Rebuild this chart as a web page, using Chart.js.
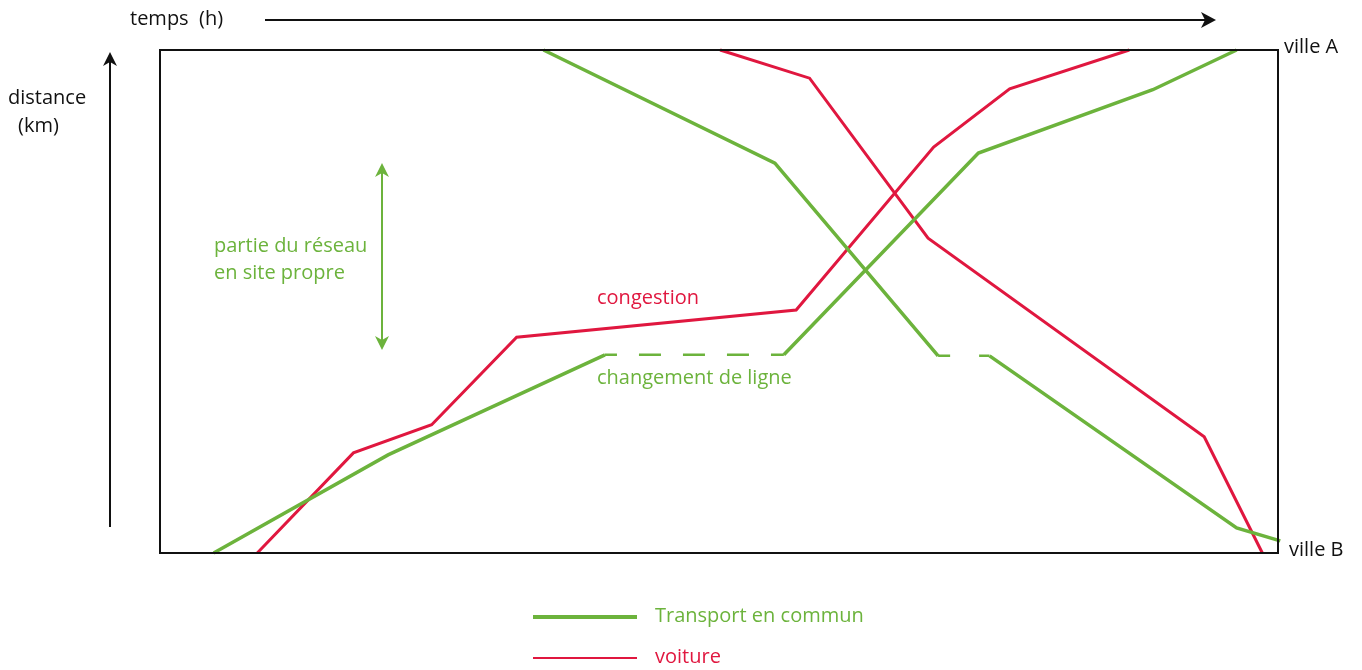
<!DOCTYPE html>
<html>
<head>
<meta charset="utf-8">
<title>temps / distance</title>
<script src="https://cdn.jsdelivr.net/npm/chart.js@4"></script>
<style>
  html, body { margin: 0; padding: 0; background: #fff; }
  #wrap { width: 1362px; height: 670px; }
</style>
</head>
<body>
<div id="wrap"><canvas id="graph" width="1362" height="670"></canvas></div>
<script>
// x = temps (0-100), y = distance (0 = ville B, 100 = ville A)
var tcAllerX = [4.8, 20.4, 39.8, 55.8, 73.2, 88.8, 96.3];
var tcAllerY = [0, 19.5, 39.4, 39.4, 79.5, 92.1, 100];
var tcRetourX = [34.3, 55.0, 69.6, 74.2, 96.3, 100.2];
var tcRetourY = [100, 77.5, 39.2, 39.2, 5.0, 2.4];
var voitAllerX = [8.7, 17.3, 24.3, 31.9, 56.9, 69.2, 76.0, 86.7];
var voitAllerY = [0, 19.9, 25.5, 42.9, 48.3, 80.7, 92.3, 100];
var voitRetourX = [50.1, 58.1, 68.7, 93.4, 98.6];
var voitRetourY = [100, 94.4, 62.6, 23.1, 0];
// index of the segment drawn dashed (changement de ligne)
var dashedSeg = 2;

var GREEN = '#6cb33c';
var RED = '#e0173f';
var FONT = '"Open Sans", sans-serif';

function pts(xs, ys) {
    return xs.map(function (x, i) { return {x: x, y: ys[i]}; });
}

function dashed(ctx) {
    if (ctx.p0DataIndex !== dashedSeg) return undefined;
    return ctx.datasetIndex === 1 ? [12, 29] : [22, 22];
}
function dashOff(ctx) {
    return (ctx.p0DataIndex === dashedSeg && ctx.datasetIndex === 0) ? 10 : 0;
}
function dashW(ctx) {
    return ctx.p0DataIndex === dashedSeg ? 2.5 : undefined;
}

function arrowHead(c, x, y, dir) {
    c.beginPath();
    if (dir === 'right') {
        c.moveTo(x, y);
        c.lineTo(x - 15, y - 8);
        c.lineTo(x - 11, y);
        c.lineTo(x - 15, y + 8);
    } else if (dir === 'up') {
        c.moveTo(x, y);
        c.lineTo(x - 7, y + 14);
        c.lineTo(x, y + 10);
        c.lineTo(x + 7, y + 14);
    } else {
        c.moveTo(x, y);
        c.lineTo(x - 7, y - 14);
        c.lineTo(x, y - 10);
        c.lineTo(x + 7, y - 14);
    }
    c.closePath();
    c.fill();
}

var decor = {
    id: 'decor',
    afterDraw: function (chart) {
        var c = chart.ctx;
        var a = chart.chartArea;
        c.save();

        // cadre
        c.strokeStyle = '#111';
        c.lineWidth = 2;
        c.strokeRect(a.left, a.top, a.right - a.left, a.bottom - a.top);

        // axe du temps
        c.fillStyle = '#111';
        c.lineWidth = 2;
        c.beginPath();
        c.moveTo(265, 20);
        c.lineTo(1208, 20);
        c.stroke();
        arrowHead(c, 1216, 20, 'right');

        // axe des distances
        c.beginPath();
        c.moveTo(110, 527);
        c.lineTo(110, 60);
        c.stroke();
        arrowHead(c, 110, 52, 'up');

        c.font = '20px ' + FONT;
        c.textBaseline = 'middle';
        c.textAlign = 'left';
        c.fillText('temps  (h)', 130, 19);
        c.fillText('distance', 8, 98);
        c.fillText('(km)', 18, 126);
        c.fillText('ville A', 1284, 47);
        c.fillText('ville B', 1289, 550);

        // site propre
        c.strokeStyle = GREEN;
        c.fillStyle = GREEN;
        c.lineWidth = 2;
        c.beginPath();
        c.moveTo(382, 172);
        c.lineTo(382, 342);
        c.stroke();
        arrowHead(c, 382, 163, 'up');
        arrowHead(c, 382, 350, 'down');
        c.fillText('partie du réseau', 214, 246);
        c.fillText('en site propre', 214, 273);
        c.fillText('changement de ligne', 597, 378);

        c.fillStyle = RED;
        c.fillText('congestion', 597, 298);

        // légende
        var leg = [
            {label: chart.data.datasets[0].label, color: GREEN, w: 4, y: 617},
            {label: chart.data.datasets[2].label, color: RED, w: 2, y: 658}
        ];
        leg.forEach(function (it) {
            c.strokeStyle = it.color;
            c.lineWidth = it.w;
            c.beginPath();
            c.moveTo(533, it.y);
            c.lineTo(637, it.y);
            c.stroke();
            c.fillStyle = it.color;
            c.fillText(it.label, 655, it.y - 1);
        });

        c.restore();
    }
};

var ctx = document.getElementById('graph').getContext('2d');
var chart = new Chart(ctx, {
    type: 'line',
    data: {
        datasets: [{
            label: 'Transport en commun',
            data: pts(tcAllerX, tcAllerY),
            borderColor: GREEN,
            borderWidth: 3.5,
            segment: {borderDash: dashed, borderDashOffset: dashOff, borderWidth: dashW}
        }, {
            label: 'Transport en commun (retour)',
            data: pts(tcRetourX, tcRetourY),
            borderColor: GREEN,
            borderWidth: 3.5,
            segment: {borderDash: dashed, borderDashOffset: dashOff, borderWidth: dashW}
        }, {
            label: 'voiture',
            data: pts(voitAllerX, voitAllerY),
            borderColor: RED,
            borderWidth: 3
        }, {
            label: 'voiture (retour)',
            data: pts(voitRetourX, voitRetourY),
            borderColor: RED,
            borderWidth: 3
        }]
    },
    options: {
        responsive: false,
        animation: false,
        clip: false,
        elements: {
            point: {radius: 0},
            line: {tension: 0, borderCapStyle: 'butt', borderJoinStyle: 'miter'}
        },
        layout: {padding: {left: 160, right: 84, top: 50, bottom: 117}},
        scales: {
            x: {type: 'linear', min: 0, max: 100, display: false},
            y: {type: 'linear', min: 0, max: 100, display: false}
        },
        plugins: {
            legend: {display: false},
            tooltip: {enabled: false}
        }
    },
    plugins: [decor]
});
</script>
</body>
</html>
